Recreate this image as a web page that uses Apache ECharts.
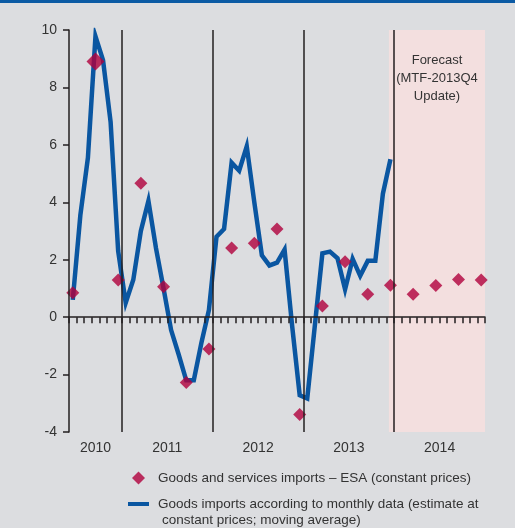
<!DOCTYPE html>
<html lang="en">
<head>
  <meta charset="UTF-8">
  <title>Imports</title>
  <style>
    html, body { margin: 0; padding: 0; background: #dcdde0; }
    #chart { width: 515px; height: 528px; }
  </style>
</head>
<body>
  <div id="chart"></div>
  <script src="https://cdn.jsdelivr.net/npm/echarts@6/dist/echarts.min.js"></script>
  <script>
    // x axis: months Jun 2010 .. Dec 2014
    const years = ['2010', '2011', '2012', '2013', '2014'];
    const monthNames = ['Jan', 'Feb', 'Mar', 'Apr', 'May', 'Jun', 'Jul', 'Aug', 'Sep', 'Oct', 'Nov', 'Dec'];
    const firstMonthOfFirstYear = 5; // June
    const yTicks = [-4, -2, 0, 2, 4, 6, 8, 10];

    // ESA quarterly imports, plotted on last month of each quarter (2010Q2 .. 2014Q4)
    const esaName = 'Goods and services imports – ESA (constant prices)';
    const esaValues = [0.85, 8.9, 1.29, 4.66, 1.06, -2.28, -1.11, 2.41, 2.57, 3.07,
      -3.39, 0.39, 1.93, 0.8, 1.11, 0.8, 1.1, 1.31, 1.29];

    // monthly goods imports, moving average (Jun 2010 .. Dec 2013)
    const monthlyName = 'Goods imports according to monthly data (estimate at';
    const monthlyNameCont = 'constant prices; moving average)';
    const monthlyValues = [0.6, 3.55, 5.55, 9.78, 8.95, 6.8, 2.3,
      0.5, 1.3, 3.0, 4.05, 2.4, 1.0, -0.45, -1.3, -2.2, -2.2, -0.9, 0.25,
      2.8, 3.07, 5.38, 5.1, 5.95, 4.0, 2.15, 1.8, 1.9, 2.35, -0.3, -2.72,
      -2.83, -0.3, 2.22, 2.28, 2.05, 0.97, 2.03, 1.44, 1.96, 1.96, 4.3, 5.5];

    const forecastStart = 42.3; // in months from start
    const forecastText = 'Forecast\n(MTF-2013Q4\nUpdate)';

    let months = [];
    years.forEach((y, yi) => {
      monthNames.forEach((m, mi) => {
        if (yi > 0 || mi >= firstMonthOfFirstYear) months.push(m + ' ' + y);
      });
    });

    // year starts (January) and label centres, in month units
    let yearStarts = [];
    let yearCenters = [];
    years.forEach(y => {
      let first = months.findIndex(m => m.endsWith(y));
      let count = months.filter(m => m.endsWith(y)).length;
      if (months[first].startsWith('Jan')) yearStarts.push(first);
      yearCenters.push(first + count / 2);
    });

    const font = "'Liberation Sans', Arial, sans-serif";
    const axisColor = '#231f20';
    const textColor = '#333';

    let myChart = echarts.init(document.getElementById('chart'));

    let option = {
      backgroundColor: '#dcdde0',
      animation: false,
      textStyle: { fontFamily: font },
      graphic: [
        { type: 'rect', left: 0, top: 0, shape: { width: 515, height: 3 }, style: { fill: '#0b5aa4' } },
        {
          type: 'text', left: 162, top: 513,
          style: { text: monthlyNameCont, fill: textColor, font: '13.5px ' + font }
        }
      ],
      grid: { left: 69, right: 30, top: 30, bottom: 96 },
      legend: {
        orient: 'vertical',
        left: 123,
        top: 466,
        itemWidth: 21,
        itemHeight: 13,
        itemGap: 12,
        symbolKeepAspect: true,
        textStyle: { color: textColor, fontSize: 13.5, fontFamily: font, padding: [0, 0, 0, 4] },
        data: [
          { name: esaName, icon: 'path://M6.5,0L13,6.5L6.5,13L0,6.5Z' },
          { name: monthlyName, icon: 'path://M0,0H21V4H0Z' }
        ]
      },
      xAxis: [
        {
          type: 'category',
          data: months,
          position: 'top',
          boundaryGap: true,
          z: 10,
          axisLine: { show: true, onZero: true, lineStyle: { color: axisColor, width: 1.5 } },
          axisTick: { show: true, inside: true, length: 6, interval: 0, lineStyle: { color: axisColor, width: 1.5 } },
          axisLabel: { show: false },
          splitLine: { show: false }
        },
        {
          type: 'value',
          position: 'bottom',
          min: 0,
          max: months.length,
          axisLine: { show: false, onZero: false },
          axisTick: { show: false },
          splitLine: { show: false },
          axisLabel: {
            customValues: yearCenters,
            formatter: v => {
              let i = yearCenters.findIndex(c => Math.abs(c - v) < 0.01);
              return i >= 0 ? years[i] : '';
            },
            margin: 9,
            fontSize: 14,
            color: textColor
          }
        }
      ],
      yAxis: {
        type: 'value',
        min: yTicks[0],
        max: yTicks[yTicks.length - 1],
        interval: yTicks[1] - yTicks[0],
        z: 10,
        axisLine: { show: true, onZero: false, lineStyle: { color: axisColor, width: 1.5 } },
        axisTick: { show: true, length: 6, lineStyle: { color: axisColor, width: 1.5 } },
        axisLabel: { margin: 12, fontSize: 14, color: textColor },
        splitLine: { show: false }
      },
      series: [
        {
          name: 'forecast',
          type: 'line',
          xAxisIndex: 1,
          data: [],
          z: 1,
          silent: true,
          markArea: {
            silent: true,
            itemStyle: { color: '#f3dfdf' },
            label: {
              show: true,
              position: 'insideTop',
              distance: 21,
              formatter: forecastText,
              color: textColor,
              fontSize: 13,
              lineHeight: 18,
              fontFamily: font
            },
            data: [[{ xAxis: forecastStart }, { xAxis: months.length }]]
          },
          markLine: {
            silent: true,
            symbol: ['none', 'none'],
            label: { show: false },
            lineStyle: { color: axisColor, width: 1.5, type: 'solid' },
            data: yearStarts.map(i => ({ xAxis: i }))
          }
        },
        {
          name: monthlyName,
          type: 'line',
          xAxisIndex: 0,
          data: monthlyValues,
          showSymbol: false,
          symbol: 'none',
          z: 3,
          itemStyle: { color: '#0a56a1' },
          lineStyle: { color: '#0a56a1', width: 4.5, join: 'miter' }
        },
        {
          name: esaName,
          type: 'scatter',
          xAxisIndex: 0,
          symbol: 'diamond',
          z: 4,
          itemStyle: { color: '#b0003c' },
          data: esaValues.map((v, i) => ({
            value: [months[i * 3], v],
            symbolSize: i === 1 ? 18 : 13
          }))
        }
      ]
    };
    myChart.setOption(option);
  </script>
</body>
</html>
